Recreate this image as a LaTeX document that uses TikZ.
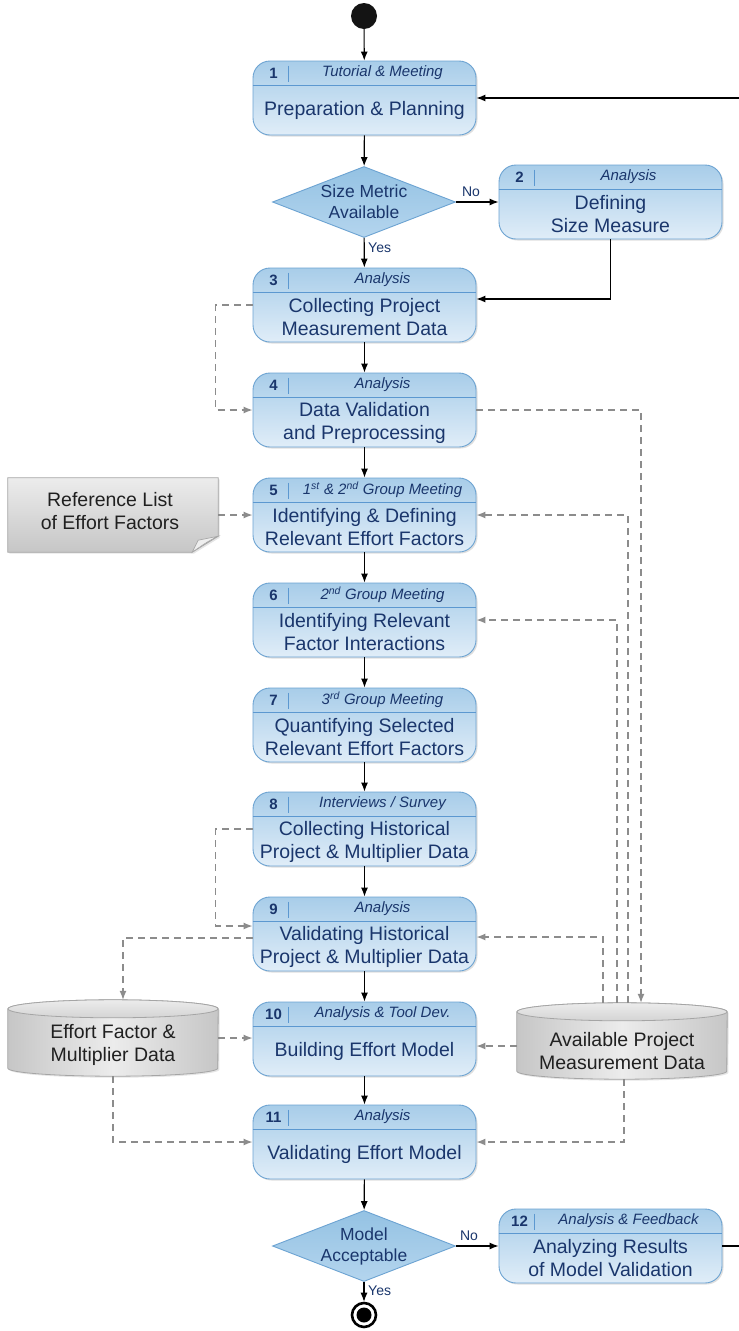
\documentclass[tikz,border=0pt]{standalone}
\usepackage{fontspec}
\setmainfont{Liberation Sans}
\usetikzlibrary{arrows.meta,calc,shapes.geometric,shadows}

\definecolor{boxtop}{RGB}{168,205,233}
\definecolor{boxmid}{RGB}{200,223,242}
\definecolor{boxbot}{RGB}{224,237,248}
\definecolor{boxline}{RGB}{108,163,210}
\definecolor{headline}{RGB}{92,152,208}
\definecolor{boxtext}{RGB}{26,54,108}
\definecolor{dmtop}{RGB}{148,194,227}
\definecolor{dmbot}{RGB}{180,213,238}
\definecolor{greytop}{RGB}{236,236,236}
\definecolor{greybot}{RGB}{198,198,198}
\definecolor{greyedge}{RGB}{165,165,165}
\definecolor{greytext}{RGB}{32,32,32}
\definecolor{dashgrey}{RGB}{140,140,140}

\tikzset{
  stepbox/.style={draw=boxline, line width=0.9pt, rounded corners=17pt,
    minimum width=223pt, minimum height=74pt, inner sep=0pt,
    top color=boxtop, middle color=boxmid, bottom color=boxbot,
    drop shadow={shadow xshift=1.5pt, shadow yshift=-1.5pt, opacity=0.25}},
  headrule/.style={draw=headline, line width=1pt},
  numtext/.style={text=boxtext, font=\bfseries\fontsize{15}{17}\selectfont, inner sep=0pt},
  headtext/.style={text=boxtext, font=\itshape\fontsize{15}{17}\selectfont, inner sep=0pt},
  bodytext/.style={text=boxtext, align=center, font=\fontsize{19.5}{23}\selectfont, inner sep=0pt},
  decision/.style={diamond, draw=boxline, line width=0.9pt, inner sep=0pt,
    minimum width=183pt, minimum height=71pt, top color=dmtop, bottom color=dmbot},
  dectext/.style={text=boxtext, align=center, font=\fontsize{17.5}{21}\selectfont, inner sep=0pt},
  flowlabel/.style={text=boxtext, font=\fontsize{14}{16}\selectfont, inner sep=0pt},
  greytextstyle/.style={text=greytext, align=center, font=\fontsize{19.5}{23}\selectfont, inner sep=0pt},
  frame/.style={minimum width=210pt, minimum height=#1, inner sep=0pt},
  flow/.style={draw=black, line width=1.1pt, -{Latex[length=9pt,width=7pt]}},
  dflow/.style={draw=dashgrey, line width=1.3pt, dash pattern=on 7pt off 5pt,
    -{Latex[length=9pt,width=7pt]}},
}

% an activity box: name, centre x, centre y, number, header, body
\newcommand\actbox[6]{%
  \node[stepbox] (#1) at (#2,#3) {};
  \draw[headrule] ([yshift=-25pt]#1.north west) -- ([yshift=-25pt]#1.north east);
  \draw[headrule] ([xshift=36pt,yshift=-5pt]#1.north west) -- ([xshift=36pt,yshift=-21pt]#1.north west);
  \node[numtext] (#1n) at ([xshift=21pt,yshift=-12.5pt]#1.north west) {#4};
  \node[headtext] (#1h) at ($([xshift=36pt,yshift=-12.5pt]#1.north west)!0.5!([yshift=-12.5pt]#1.north east)$) {#5};
  \node[bodytext] (#1b) at ($([yshift=-25pt]#1.north)!0.5!(#1.south)$) {#6};
}

% a data store drawn as a cylinder: name, centre x, centre y, text shift, text
\newcommand\datastore[5]{%
  \node[frame=76pt] (#1) at (#2,#3) {};
  \path[draw=greyedge, line width=0.8pt, left color=greybot, right color=greybot, middle color=greytop,
        drop shadow={shadow xshift=1.5pt, shadow yshift=-1.5pt, opacity=0.2}]
    ([yshift=-9pt]#1.north west) -- ([yshift=8pt]#1.south west)
    arc[start angle=180, end angle=360, x radius=105pt, y radius=8pt]
    -- ([yshift=-9pt]#1.north east)
    arc[start angle=0, end angle=180, x radius=105pt, y radius=9pt] -- cycle;
  \path[draw=greyedge, line width=0.8pt, top color=greytop, bottom color={rgb,255:red,212;green,212;blue,212}]
    ([yshift=-9pt]#1.north) ellipse [x radius=105pt, y radius=9pt];
  \node[greytextstyle] (#1t) at ([yshift=-#4pt]#1.center) {#5};
}

\begin{document}
\begin{tikzpicture}[x=1pt,y=-1pt]
\fill[white] (0,0) rectangle (739,1331);
\useasboundingbox (0,0) rectangle (739,1331);

% start and end
\node[circle, fill={rgb,255:red,20;green,20;blue,20}, minimum size=26pt, inner sep=0pt] (start) at (364,16) {};
\node[circle, draw=black, line width=2.6pt, fill=white, minimum size=24pt, inner sep=0pt] (stop) at (364,1315) {};
\node[circle, fill=black, minimum size=15pt, inner sep=0pt] (stopdot) at (stop.center) {};

% activities
\actbox{b1}{364.5}{98}{1}{Tutorial \& Meeting}{Preparation \& Planning}
\actbox{b2}{610.5}{202}{2}{Analysis}{Defining\\Size Measure}
\actbox{b3}{364.5}{305}{3}{Analysis}{Collecting Project\\Measurement Data}
\actbox{b4}{364.5}{410}{4}{Analysis}{Data Validation\\and Preprocessing}
\actbox{b5}{364.5}{515}{5}{1\textsuperscript{st} \& 2\textsuperscript{nd} Group Meeting}{Identifying \& Defining\\Relevant Effort Factors}
\actbox{b6}{364.5}{620}{6}{2\textsuperscript{nd} Group Meeting}{Identifying Relevant\\Factor Interactions}
\actbox{b7}{364.5}{725}{7}{3\textsuperscript{rd} Group Meeting}{Quantifying Selected\\Relevant Effort Factors}
\actbox{b8}{364.5}{829}{8}{Interviews / Survey}{Collecting Historical\\Project \& Multiplier Data}
\actbox{b9}{364.5}{934}{9}{Analysis}{Validating Historical\\Project \& Multiplier Data}
\actbox{b10}{364.5}{1039}{10}{Analysis \& Tool Dev.}{Building Effort Model}
\actbox{b11}{364.5}{1142}{11}{Analysis}{Validating Effort Model}
\actbox{b12}{610.5}{1246}{12}{Analysis \& Feedback}{Analyzing Results\\of Model Validation}

% decisions
\node[decision] (d1) at (364,202) {};
\node[dectext] (d1t) at (d1.center) {Size Metric\\Available};
\node[decision] (d2) at (364,1246) {};
\node[dectext] (d2t) at (d2.center) {Model\\Acceptable};

% reference list (document shape with folded corner)
\node[frame=74pt] (ref) at (113,515) {};
\path[draw=greyedge, line width=0.8pt, top color=greytop, bottom color=greybot,
      drop shadow={shadow xshift=1.5pt, shadow yshift=-1.5pt, opacity=0.2}]
  (ref.north west) -- (ref.north east) -- ([yshift=16pt]ref.south east)
  -- ([xshift=-26pt]ref.south east) -- (ref.south west) -- cycle;
\path[draw=greyedge, line width=0.6pt, fill={rgb,255:red,238;green,238;blue,238}]
  ([yshift=16pt]ref.south east) .. controls ([xshift=-10pt,yshift=11pt]ref.south east) .. ([xshift=-26pt]ref.south east)
  -- ([xshift=-20pt,yshift=12pt]ref.south east) -- cycle;
\node[greytextstyle] (reft) at ([xshift=-3pt,yshift=4pt]ref.center) {Reference List\\of Effort Factors};

% data stores
\datastore{efm}{113}{1038}{7}{Effort Factor \&\\Multiplier Data}
\datastore{apm}{622}{1041}{10}{Available Project\\Measurement Data}

% control flow
\draw[flow] (start) -- (b1);
\draw[flow] (b1) -- (d1);
\draw[flow] (d1) -- (b3);
\draw[flow] (d1.east) -- (b2.west);
\draw[flow] (b2.south) |- ([yshift=6pt]b3.east);
\draw[flow] (b3) -- (b4);
\draw[flow] (b4) -- (b5);
\draw[flow] (b5) -- (b6);
\draw[flow] (b6) -- (b7);
\draw[flow] (b7) -- (b8);
\draw[flow] (b8) -- (b9);
\draw[flow] (b9) -- (b10);
\draw[flow] (b10) -- (b11);
\draw[flow] (b11) -- (d2);
\draw[flow] (d2) -- (stop);
\draw[flow] (d2.east) -- (b12.west);
\draw[flow] (b12.east) -- ++(24,0) |- (b1.east);

% branch labels
\node[flowlabel] (no1) at ([xshift=15pt,yshift=10pt]d1.east) {No};
\node[flowlabel, anchor=west] (yes1) at ([xshift=4pt,yshift=-10pt]d1.south) {Yes};
\node[flowlabel] (no2) at ([xshift=13pt,yshift=10pt]d2.east) {No};
\node[flowlabel, anchor=west] (yes2) at ([xshift=4pt,yshift=-9pt]d2.south) {Yes};

% data flow
\draw[dflow] (b3.west) -- ++(-37,0) |- (b4.west);
\draw[dflow] (b4.east) -| ([xshift=19pt]apm.north);
\draw[dflow] ([xshift=6pt]apm.north) |- (b5.east);
\draw[dflow] ([xshift=-5pt]apm.north) |- (b6.east);
\draw[dflow] ([xshift=-19pt]apm.north) |- ([yshift=-3pt]b9.east);
\coordinate (apmout) at ([yshift=-5pt]apm.west);
\draw[dflow] (apmout) -- (apmout -| b10.east);
\draw[dflow] ([xshift=2pt]apm.south) |- (b11.east);
\draw[dflow] (ref.east) -- (b5.west);
\draw[dflow] (b8.west) -- ++(-37,0) |- ([yshift=8pt]b9.west);
\draw[dflow] ([yshift=-4pt]b9.west) -| ([xshift=10pt]efm.north);
\draw[dflow] (efm.east) -- (efm.east -| b10.west);
\draw[dflow] (efm.south) |- (b11.west);
\end{tikzpicture}
\end{document}
